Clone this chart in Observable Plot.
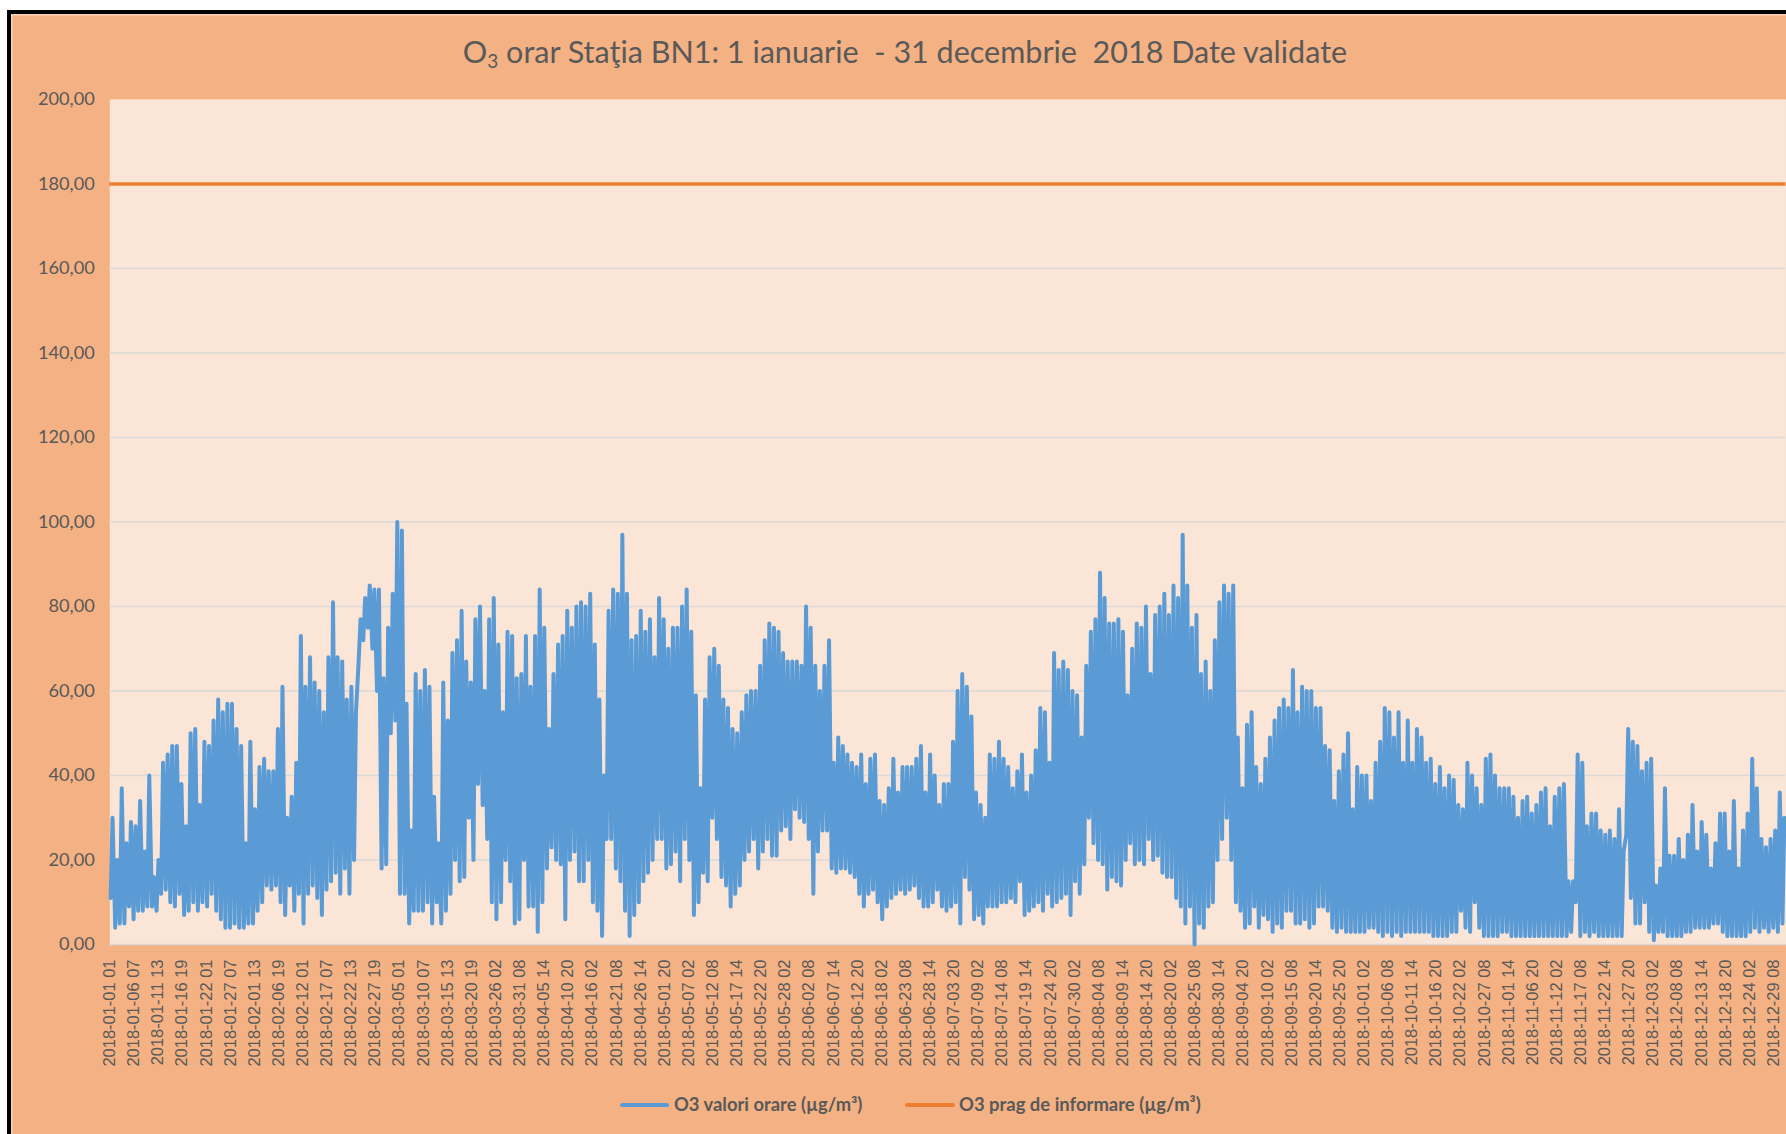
<!DOCTYPE html>
<html><head><meta charset="utf-8">
<script src="https://cdn.jsdelivr.net/npm/d3@7"></script>
<script src="https://cdn.jsdelivr.net/npm/@observablehq/plot@0.6"></script>
<style>
html,body{margin:0;padding:0;overflow:hidden;background:#fff;width:1786px;height:1134px;}
#frame{position:absolute;left:7px;top:10px;width:1800px;height:1200px;border-left:4.5px solid #000;border-top:4.5px solid #000;background:#F4B183;box-shadow:inset 1.5px 1.5px 0 #F9D3B8;}
#title{position:absolute;left:0;width:1810px;top:30px;height:44px;line-height:44px;text-align:center;white-space:pre;color:#595959;font-family:Lato,sans-serif;}
#title sub{font-size:0.62em;vertical-align:-0.25em;line-height:0;}
#chart{position:absolute;left:0;top:80px;}
#legend{position:absolute;top:1092px;left:0;width:1786px;height:24px;font-family:Lato,sans-serif;font-weight:700;color:#595959;}
.item{position:absolute;top:0;height:24px;line-height:24px;white-space:nowrap;}
.sw{position:absolute;top:10.5px;height:4px;border-radius:2px;}
</style></head>
<body>
<div id="frame"></div>
<div id="title">O<sub>3</sub> orar Staţia BN1: 1 ianuarie  - 31 decembrie  2018 Date validate</div>
<div id="chart"></div>
<div id="legend">
  <div class="sw" style="left:620px;width:49px;background:#5B9BD5"></div>
  <div class="item" id="leg1" style="left:674px">O3 valori orare (µg/m³)</div>
  <div class="sw" style="left:905px;width:50px;background:#ED7D31"></div>
  <div class="item" id="leg2" style="left:959px">O3 prag de informare (µg/m³)</div>
</div>
<script>
// Daily maximum of hourly O3 (µg/m³), month by month
const dailyMax = [
  30,20,37,24,29,28,34,22,40,16,20,43,45,47,47,38,28,50,51,33,48,47,53,58,55,57,57,51,47,24,48, // Jan
  32,42,44,41,41,51,61,30,35,43,73,61,68,62,60,55,68,81,68,67,58,61,55,77,82,85,84,84,           // Feb
  63,75,83,100,98,57,27,64,60,65,61,35,24,62,53,69,72,79,67,62,77,80,60,77,82,71,55,74,73,63,64, // Mar
  73,61,73,84,75,51,64,71,73,79,75,80,81,80,83,71,58,40,79,84,83,97,83,72,73,79,74,77,68,82,     // Apr
  77,70,75,75,80,84,74,59,37,58,68,70,66,58,56,51,50,55,59,60,60,66,72,76,75,74,69,67,67,67,66,  // May
  80,75,66,60,66,72,43,49,47,45,43,42,45,38,44,45,34,33,37,44,36,42,42,42,44,47,36,45,40,33,     // Jun
  38,38,48,60,64,61,54,36,33,30,45,44,48,44,42,37,41,45,36,40,46,56,55,43,69,65,67,65,60,59,49,  // Jul
  66,74,77,88,82,76,76,77,74,59,70,76,75,80,64,78,80,83,78,85,82,97,85,75,78,64,67,60,72,81,85,  // Aug
  83,85,49,37,52,55,42,38,44,49,53,56,58,56,65,55,61,60,60,56,56,47,46,34,41,45,50,32,42,40,     // Sep
  40,34,43,48,56,55,49,55,43,53,43,51,49,43,44,38,42,37,40,39,33,32,43,40,37,33,44,45,40,37,37,  // Oct
  37,35,30,34,35,31,33,36,37,28,35,37,38,15,15,45,43,28,31,31,27,26,27,25,32,22,51,48,47,41,     // Nov
  43,44,14,18,37,21,21,25,20,26,33,22,29,26,18,24,31,31,22,34,18,27,31,44,37,25,23,25,27,36,30   // Dec
];
// Daily minimum of hourly O3 (µg/m³)
const dailyMin = [
  11,4,5,5,9,6,8,8,9,9,8,12,13,10,9,12,7,8,10,8,10,9,12,8,6,4,4,5,4,4,5,
  5,8,10,14,13,14,10,7,14,8,12,5,12,14,11,7,13,15,17,12,18,12,20,67,72,75,70,60,
  18,19,50,53,12,12,5,8,8,8,10,5,10,5,8,12,20,15,16,30,20,38,33,25,10,6,10,20,15,5,6,
  20,9,9,3,10,18,23,20,19,6,20,22,15,15,20,10,8,2,25,25,18,15,8,2,7,10,15,17,20,25,
  25,18,19,22,15,25,20,7,10,17,15,30,25,16,14,9,12,14,20,22,25,18,22,25,21,21,27,28,25,32,30,
  29,25,12,22,27,27,18,17,18,18,17,16,12,9,12,13,10,6,9,11,12,13,12,13,14,11,9,9,10,13,
  9,8,9,10,5,16,13,6,7,5,9,9,9,10,10,11,10,15,7,8,9,10,8,12,9,10,11,12,7,15,12,
  19,30,24,20,19,13,16,15,14,20,24,19,20,19,25,20,21,17,16,16,11,9,5,9,0,5,4,9,10,20,25,
  30,20,10,8,4,5,9,4,7,6,3,5,4,8,8,5,5,6,4,5,9,9,8,4,3,4,3,3,3,3,
  3,4,4,3,2,3,2,3,2,3,3,3,3,3,3,2,2,2,2,3,3,8,4,3,10,4,2,2,2,2,3,
  3,2,2,2,2,2,2,2,2,2,2,2,2,2,3,10,2,3,2,3,2,2,2,2,2,2,26,11,5,5,
  10,3,1,3,3,2,2,2,2,3,3,4,4,4,4,5,5,3,2,2,2,2,2,3,4,3,4,3,4,3,5
];
const infoThreshold = [180];
const yTicks = [0,20,40,60,80,100,120,140,160,180,200];
const xTickLabels = [
  "2018-01-01 01","2018-01-06 07","2018-01-11 13","2018-01-16 19","2018-01-22 01","2018-01-27 07",
  "2018-02-01 13","2018-02-06 19","2018-02-12 01","2018-02-17 07","2018-02-22 13","2018-02-27 19",
  "2018-03-05 01","2018-03-10 07","2018-03-15 13","2018-03-20 19","2018-03-26 02","2018-03-31 08",
  "2018-04-05 14","2018-04-10 20","2018-04-16 02","2018-04-21 08","2018-04-26 14","2018-05-01 20",
  "2018-05-07 02","2018-05-12 08","2018-05-17 14","2018-05-22 20","2018-05-28 02","2018-06-02 08",
  "2018-06-07 14","2018-06-12 20","2018-06-18 02","2018-06-23 08","2018-06-28 14","2018-07-03 20",
  "2018-07-09 02","2018-07-14 08","2018-07-19 14","2018-07-24 20","2018-07-30 02","2018-08-04 08",
  "2018-08-09 14","2018-08-14 20","2018-08-20 02","2018-08-25 08","2018-08-30 14","2018-09-04 20",
  "2018-09-10 02","2018-09-15 08","2018-09-20 14","2018-09-25 20","2018-10-01 02","2018-10-06 08",
  "2018-10-11 14","2018-10-16 20","2018-10-22 02","2018-10-27 08","2018-11-01 14","2018-11-06 20",
  "2018-11-12 02","2018-11-17 08","2018-11-22 14","2018-11-27 20","2018-12-03 02","2018-12-08 08",
  "2018-12-13 14","2018-12-18 20","2018-12-24 02","2018-12-29 08"
];
const labelEvery = 126;   // one category label every 126 hourly points
const nPoints = 8759;     // hourly points in the series

// hourly-index series: each day's low (early morning) and high (afternoon)
const series = [];
dailyMax.forEach((hi, d) => {
  series.push({t: Math.min(24 * d + 4, nPoints - 1), v: dailyMin[d]});
  series.push({t: Math.min(24 * d + 14, nPoints - 1), v: hi});
});

// font fitting helpers
const ctx = document.createElement("canvas").getContext("2d");
function fit(text, weight, family, target, base) {
  ctx.font = `${weight} ${base}px ${family}`;
  return base * target / ctx.measureText(text).width;
}
const titleSize = fit("O3 orar Staţia BN1: 1 ianuarie  - 31 decembrie  2018 Date validate", 400, "Lato", 893, 30);
document.getElementById("title").style.fontSize = titleSize + "px";
document.getElementById("leg1").style.fontSize = fit("O3 valori orare (µg/m³)", 700, "Lato", 189, 18) + "px";
document.getElementById("leg2").style.fontSize = fit("O3 prag de informare (µg/m³)", 700, "Lato", 242, 18) + "px";
const ySize = fit("200,00", 400, "Lato", 57, 20);

const W = 1790, H = 1000;
const ml = 109.5, mt = 19, mb = 134, plotW = 1680;
const mr = W - ml - plotW;
const fmtY = v => d3.format(".2f")(v).replace(".", ",");

const chart = Plot.plot({
  width: W, height: H,
  marginLeft: ml, marginRight: mr, marginTop: mt, marginBottom: mb,
  style: {background: "transparent", overflow: "visible"},
  x: {domain: [-0.5, nPoints - 0.5], axis: null},
  y: {domain: [0, 200], axis: null},
  marks: [
    Plot.frame({fill: "#FBE5D6", stroke: "none"}),
    Plot.gridY(yTicks.filter(v => v < 200), {stroke: "#D9D9D9", strokeOpacity: 1, strokeWidth: 1.5}),
    Plot.axisY(yTicks, {tickSize: 0, tickPadding: 15, tickFormat: fmtY, fill: "#595959", label: null}),
    Plot.axisX(xTickLabels.map((_, k) => k * labelEvery), {
      tickSize: 0, tickPadding: 15, tickRotate: -90, fill: "#595959", label: null,
      tickFormat: t => xTickLabels[Math.round(t / labelEvery)]
    }),
    Plot.line(series, {x: "t", y: "v", stroke: "#5B9BD5", strokeWidth: 4, strokeLinejoin: "round", strokeLinecap: "round"}),
    Plot.ruleY(infoThreshold, {stroke: "#ED7D31", strokeWidth: 3.5})
  ]
});
document.getElementById("chart").appendChild(chart);
const svg = d3.select(chart);
svg.selectAll('[aria-label="y-axis tick label"]')
  .style("font-family", "Lato, sans-serif").style("font-size", ySize + "px");
svg.selectAll('[aria-label="x-axis tick label"]')
  .style("font-family", "'Liberation Sans', Arial, sans-serif").style("font-size", "16.5px");
</script>
</body></html>
